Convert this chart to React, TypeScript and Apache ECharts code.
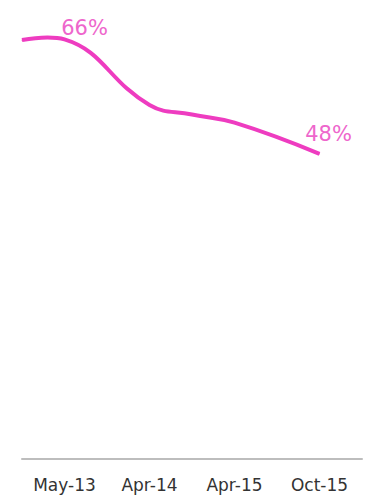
import React, { useEffect, useRef } from "react";
import * as echarts from "echarts";

const categories = ["May-13", "Apr-14", "Apr-15", "Oct-15"];
// line points: [position along category axis (band index), value %]
const linePoints: [number, number][] = [
  [-0.5, 65.9],
  [-0.2, 66.3],
  [0, 66],
  [1, 55.7],
  [1.5, 54.2],
  [2, 52.9],
  [3, 48],
];
// indices of labelled points and their label offsets
const labelledIndex = [2, 6];
const labelOffsets: [number, number][] = [
  [20, -11],
  [9, -20],
];

export default function App() {
  const ref = useRef<HTMLDivElement>(null);
  useEffect(() => {
    if (!ref.current) return;
    const chart = echarts.init(ref.current, null, { renderer: "svg" });
    const data = linePoints.map((p, i) => {
      const li = labelledIndex.indexOf(i);
      if (li < 0) return { value: p };
      return {
        value: p,
        label: {
          show: true,
          position: "inside",
          offset: labelOffsets[li],
          formatter: (q: any) => Math.round(q.value[1]) + "%",
          color: "#ee66cc",
          fontSize: 21,
          fontFamily: "DejaVu Sans",
        },
      };
    });
    chart.setOption({
      animation: false,
      backgroundColor: "#ffffff",
      grid: { left: 22, right: 4, top: 14, bottom: 36 },
      xAxis: [
        {
          type: "category",
          data: categories,
          boundaryGap: true,
          axisLine: { lineStyle: { color: "#bdbdbd", width: 2 } },
          axisTick: { show: false },
          axisLabel: {
            interval: 0,
            color: "#333333",
            fontSize: 17,
            fontFamily: "DejaVu Sans",
            margin: 17,
          },
          splitLine: { show: false },
        },
        {
          type: "value",
          min: -0.5,
          max: 3.5,
          show: false,
          splitLine: { show: false },
        },
      ],
      yAxis: {
        type: "value",
        min: 0,
        max: 70,
        show: false,
        splitLine: { show: false },
      },
      series: [
        {
          type: "line",
          xAxisIndex: 1,
          data,
          smooth: 0.45,
          symbol: "circle",
          symbolSize: 1,
          itemStyle: { color: "#ee3cc0" },
          lineStyle: { color: "#ee3cc0", width: 4 },
          label: { show: false },
        },
      ],
    });
    return () => chart.dispose();
  }, []);
  return (
    <div
      ref={ref}
      style={{ position: "absolute", left: 0, top: 0, width: 366, height: 495 }}
    />
  );
}
